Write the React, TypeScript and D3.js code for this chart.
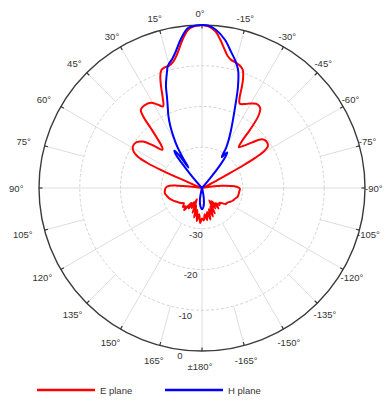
import React from "react";
import * as d3 from "d3";

// ---- data (angle in degrees, positive = counter-clockwise from top; gain in dB)
const eAngles = [
  -177, -174, -171, -168, -165, -162, -159, -156, -153, -150, -147, -144, -141, -138,
  -134, -131, -127, -124, -120, -116, -112, -108, -104, -100, -95, -91, -88, -86, -84, -82,
  -79, -72, -66, -63, -62, -61.3, -60.5, -59.5, -57.5, -54, -51, -47.5, -44.5, -42, -40.5,
  -39.5, -38, -36, -33, -29.5, -26.5, -24, -22.5, -21.5, -20.5, -19, -17, -15, -13, -11,
  -9, -7, -5, -3, -1, 0, 1, 3, 5, 7, 9, 11, 13, 15, 17, 19, 20.5, 22, 23.5, 25.5, 28, 31,
  35, 38, 39.5, 40.5, 42, 44, 46, 49, 52, 55, 59, 62, 64, 65.5, 66.3, 67, 69, 73, 80, 83,
  84.5, 86, 89, 93, 98, 103, 108, 113, 119, 125, 130, 135, 138, 141, 144, 147, 150, 153,
  156, 159, 162, 165, 168, 171, 174, 177, 180,
];
const eGains = [
  -32.0, -33.5, -32.0, -34.0, -32.0, -34.5, -32.5, -35.0, -33.0, -36.5, -34.0, -36.0, -33.5, -35.0,
  -34.0, -34.4, -33.8, -33.0, -32.8, -32.3, -31.8, -31.5, -31.0, -30.9, -30.8, -30.7, -31.5, -33.0, -35.0, -37.5,
  -40, -40, -39, -36, -32.5, -28.5, -25.0, -22.5, -20.8, -20.5, -21.0, -23.5, -25.5, -26.5, -25.0,
  -21.5, -17.5, -15.7, -15.4, -16.2, -17.0, -17.3, -15.8, -13.3, -11.2, -9.3, -8.5, -8.1, -7.8, -7.0,
  -5.3, -3.3, -1.5, -0.5, -0.1, 0, -0.1, -0.3, -1.0, -2.8, -5.0, -7.0, -8.3, -8.9, -9.0, -9.4, -10.8, -13.2, -15.8, -17.8, -16.8, -15.6,
  -15.3, -15.6, -17.5, -20.5, -23.5, -25.8, -26.5, -24.0, -21.5, -20.4, -20.2, -21.0, -22.5, -25.5, -29.5, -34.0, -38.5, -40, -40, -37,
  -34, -32, -31.2, -30.9, -30.8, -31.2, -31.6, -32.2, -33.0, -33.6, -34.2, -33.4, -34.0, -33.0, -35.5, -34.0, -36.0, -34.5,
  -37.0, -33.5, -35.5, -32.5, -34.5, -31.8, -33.5, -31.4, -32.5,
];

const hAngles = [
  -180, -175, -170, -165, -160, -140, -120, -100, -80, -60, -43, -40, -38.5, -37, -35.5, -34,
  -32.5, -31, -29, -27, -24.5, -22.2, -19.6, -17, -14.5, -12, -8.8, -5, -2, 0, 2, 5, 8, 11,
  13, 15.5, 17, 19.5, 21, 23, 25, 27, 29, 31, 32.5, 33.5, 35, 36.5, 38, 39, 40.5, 42, 45,
  60, 80, 100, 120, 140, 160, 165, 170, 175,
];
const hGains = [
  -34.8, -35.5, -37.5, -39.5, -40, -40, -40, -40, -40, -40, -40, -37, -33, -30.5, -29.3, -30,
  -31, -28.5, -26.5, -24.5, -21.7, -18.5, -13.7, -9.7, -7.6, -5.8, -3.2, -1.0, -0.1, 0, -0.1, -0.6, -3.0, -6.0,
  -7.5, -8.8, -10.5, -13.5, -16.0, -18.5, -20.5, -22.8, -25.5, -28.3, -31.5, -34, -30, -28.6, -29.5, -32, -36, -39, -40,
  -40, -40, -40, -40, -40, -40, -39.5, -37.0, -35.5,
];

const ringValues = [-30, -20, -10];
const radialLabels = ["-30", "-20", "-10", "0"];
const radialLabelValues = [-30, -20, -10, 0];
const angleTicks = d3.range(-165, 181, 15);
const seriesNames = ["E plane", "H plane"];
const seriesColors = ["#ff0000", "#0000ff"];

const W = 390;
const H = 403;
const cx = 202;
const cy = 188;
const R = 163;
const FONT = "'Liberation Sans', Arial, sans-serif";

export default function App() {
  const r = d3.scaleLinear().domain([-40, 0]).range([0, R]).clamp(true);
  const rad = (a: number) => (a * Math.PI) / 180;
  const px = (a: number, rr: number) => cx - rr * Math.sin(rad(a));
  const py = (a: number, rr: number) => cy - rr * Math.cos(rad(a));

  const line = d3
    .lineRadial<[number, number]>()
    .angle((d) => -rad(d[0]))
    .radius((d) => r(d[1]))
    .curve(d3.curveCatmullRomClosed.alpha(0.5));

  const eData: [number, number][] = eAngles.map((a, i) => [a, eGains[i]]);
  const hData: [number, number][] = hAngles.map((a, i) => [a, hGains[i]]);

  const grid = "#d4d4d4";
  const spokes: JSX.Element[] = [];
  angleTicks.forEach((a, i) => {
    // outer band: every 15 degrees
    spokes.push(
      <line key={"s1" + i} x1={px(a, r(-10))} y1={py(a, r(-10))} x2={px(a, R)} y2={py(a, R)} stroke={grid} strokeWidth={0.8} />
    );
    if (a % 30 === 0) {
      spokes.push(
        <line key={"s2" + i} x1={px(a, r(-20))} y1={py(a, r(-20))} x2={px(a, r(-10))} y2={py(a, r(-10))} stroke={grid} strokeWidth={0.8} />
      );
      spokes.push(
        <line key={"s3" + i} x1={px(a, r(-30))} y1={py(a, r(-30))} x2={px(a, r(-20))} y2={py(a, r(-20))} stroke={grid} strokeWidth={0.8} />
      );
    }
    if (a % 90 === 0) {
      spokes.push(
        <line key={"s4" + i} x1={cx} y1={cy} x2={px(a, r(-30))} y2={py(a, r(-30))} stroke={grid} strokeWidth={0.8} strokeDasharray="2,2" />
      );
    }
  });

  const labelFor = (a: number) => (a === 180 ? "±180°" : `${a}°`);

  return (
    <svg width={W} height={H} style={{ position: "absolute", left: 0, top: 0, background: "#fff" }} fontFamily={FONT}>
      <rect x={0} y={0} width={W} height={H} fill="#fff" />
      {ringValues.map((v) => (
        <circle key={v} cx={cx} cy={cy} r={r(v)} fill="none" stroke="#c8c8c8" strokeWidth={0.8} strokeDasharray="3,2" />
      ))}
      {spokes}
      <circle cx={cx} cy={cy} r={R} fill="none" stroke="#3a3a3a" strokeWidth={1.4} />
      {angleTicks.map((a) => (
        <line key={"t" + a} x1={px(a, R)} y1={py(a, R)} x2={px(a, R - 3.5)} y2={py(a, R - 3.5)} stroke="#3a3a3a" strokeWidth={1.2} />
      ))}
      {angleTicks.map((a) => {
        const s = Math.sin(rad(a));
        const c = Math.cos(rad(a));
        const d = 175 + 1.75 * (1 - c) + 2 * Math.pow(s, 4);
        const shift = -2 - 5 * Math.pow(s, 4);
        return (
          <text
            key={"l" + a}
            x={cx - d * s + shift}
            y={cy - d * c}
            fontSize={9.5}
            fill="#333"
            textAnchor="middle"
            dominantBaseline="central"
          >
            {labelFor(a)}
          </text>
        );
      })}
      {radialLabelValues.map((v, i) => (
        <text
          key={"rl" + v}
          x={px(172.5, r(v) + 6)}
          y={py(172.5, r(v) + 6)}
          fontSize={9.5}
          fill="#333"
          textAnchor="middle"
          dominantBaseline="central"
        >
          {radialLabels[i]}
        </text>
      ))}
      <g transform={`translate(${cx},${cy})`}>
        <path d={line(eData) || ""} fill="none" stroke={seriesColors[0]} strokeWidth={2} strokeLinejoin="round" />
        <path d={line(hData) || ""} fill="none" stroke={seriesColors[1]} strokeWidth={2} strokeLinejoin="round" />
      </g>
      {seriesNames.map((n, i) => {
        const x0 = 37 + i * 128;
        return (
          <g key={n}>
            <line x1={x0} y1={390} x2={x0 + 58} y2={390} stroke={seriesColors[i]} strokeWidth={2.5} />
            <text x={x0 + 63} y={390} fontSize={9.5} fill="#333" dominantBaseline="central">
              {n}
            </text>
          </g>
        );
      })}
    </svg>
  );
}
